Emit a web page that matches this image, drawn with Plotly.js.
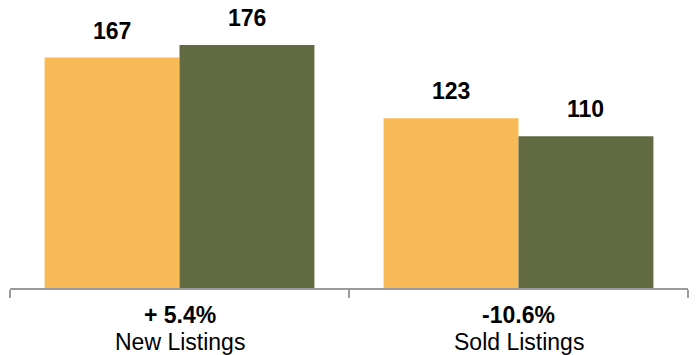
<!DOCTYPE html>
<html>
<head>
<meta charset="utf-8">
<script src="https://cdn.plot.ly/plotly-3.0.1.min.js"></script>
<style>
  html, body { margin: 0; padding: 0; background: #fff; }
  #chart { width: 696px; height: 355px; }
</style>
</head>
<body>
<div id="chart"></div>
<script>
// Listing counts, prior period vs current period
const categories = ["New Listings", "Sold Listings"];
const changeLabels = ["+ 5.4%", "-10.6%"];
const priorValues = [167, 123];
const currentValues = [176, 110];

const bargap = 0.204;
const fontFamily = "Liberation Sans, Arial, Helvetica, sans-serif";
const barFont = { family: fontFamily, size: 23, color: "#000" };
const catFont = { family: fontFamily, size: 23, color: "#000" };

const traces = [
  {
    type: "bar",
    x: categories,
    y: priorValues,
    marker: { color: "#F7BA56" },
    hoverinfo: "skip"
  },
  {
    type: "bar",
    x: categories,
    y: currentValues,
    marker: { color: "#626A42" },
    hoverinfo: "skip"
  }
];

// value labels above each bar
const half = (1 - bargap) / 4;
const annotations = [];
[priorValues, currentValues].forEach((vals, s) => {
  vals.forEach((v, i) => {
    annotations.push({
      xref: "x", yref: "y",
      x: i + (s === 0 ? -half : half),
      y: v,
      text: "<b>" + v + "</b>",
      showarrow: false,
      yanchor: "bottom",
      yshift: 12,
      font: barFont
    });
  });
});

// two-line category labels under the axis: change (bold) and name
categories.forEach((c, i) => {
  annotations.push({
    xref: "x", yref: "paper",
    x: i, y: 0,
    text: "<b>" + changeLabels[i] + "</b>",
    showarrow: false,
    yanchor: "middle",
    yshift: -27,
    font: catFont
  });
  annotations.push({
    xref: "x", yref: "paper",
    x: i, y: 0,
    text: c,
    showarrow: false,
    yanchor: "middle",
    yshift: -54,
    font: catFont
  });
});

const layout = {
  width: 696,
  height: 355,
  margin: { l: 10, r: 8, t: 12, b: 67 },
  paper_bgcolor: "#fff",
  plot_bgcolor: "#fff",
  showlegend: false,
  barmode: "group",
  bargap: bargap,
  bargroupgap: 0,
  xaxis: {
    type: "category",
    tickmode: "array",
    tickvals: categories,
    showticklabels: false,
    tickson: "boundaries",
    ticks: "outside",
    ticklen: 8,
    tickwidth: 2,
    tickcolor: "#9B9B9B",
    showline: true,
    linecolor: "#9B9B9B",
    linewidth: 2,
    showgrid: false,
    zeroline: false,
    fixedrange: true
  },
  yaxis: {
    range: [0, 200],
    visible: false,
    showgrid: false,
    zeroline: false,
    fixedrange: true
  },
  annotations: annotations
};

Plotly.newPlot("chart", traces, layout, { staticPlot: true, displayModeBar: false });
</script>
</body>
</html>
